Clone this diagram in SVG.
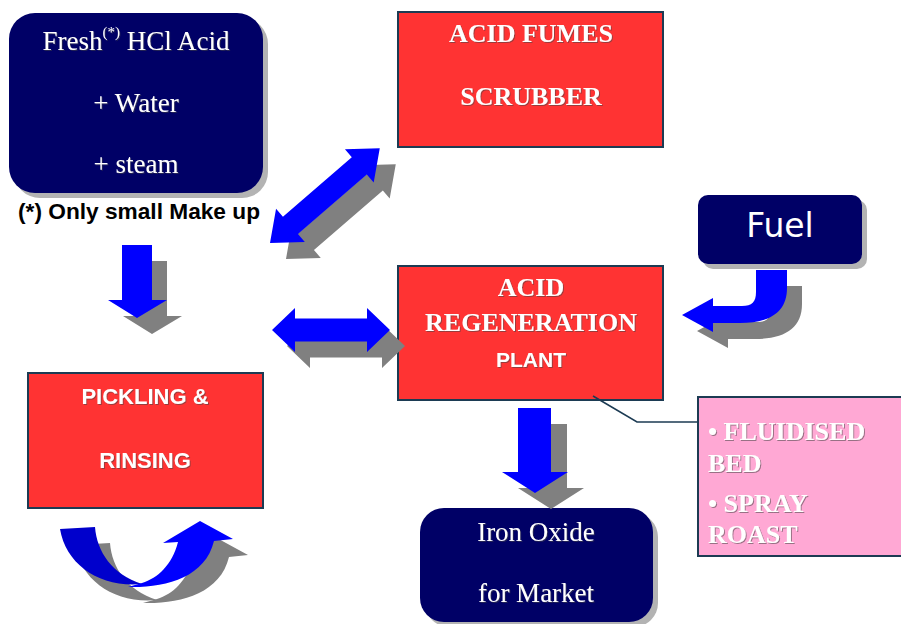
<svg xmlns="http://www.w3.org/2000/svg" width="901" height="624" viewBox="0 0 901 624">
<defs>
<filter id="ts" x="-5%" y="-20%" width="115%" height="150%">
<feDropShadow dx="1" dy="1" stdDeviation="0.5" flood-color="#444" flood-opacity="0.55"/>
</filter>
</defs>
<style>
.navy{fill:#000066}
.shadow{fill:#B3B3B3}
.red{fill:#FF3333;stroke:#1C3B53;stroke-width:2}
.pink{fill:#FFA8D4;stroke:#1C3B53;stroke-width:2}
.serif{font-family:"Liberation Serif","Times New Roman",serif;fill:#fff;font-size:27px}
.bserif{font-family:"Liberation Serif","Times New Roman",serif;fill:#fff;font-size:26px;font-weight:bold}
.bsans{font-family:"Liberation Sans",Arial,sans-serif;fill:#fff;font-weight:bold}
.blue{fill:#0000FF}
.dblue{fill:#0000CC}
.gray{fill:#808080}
</style>
<rect width="901" height="624" fill="#fff"/>

<g id="fresh-acid">
<rect class="shadow" x="14" y="18" width="254" height="180" rx="26"/>
<rect class="navy" x="9" y="13" width="254" height="180" rx="26"/>
<text class="serif" x="136" y="50" text-anchor="middle" filter="url(#ts)">Fresh<tspan font-size="15" dy="-13">(*)</tspan><tspan dy="13"> HCl Acid</tspan></text>
<text class="serif" x="136" y="112" text-anchor="middle" filter="url(#ts)">+ Water</text>
<text class="serif" x="136" y="173" text-anchor="middle" filter="url(#ts)">+ steam</text>
</g>
<g id="makeup-note">
<text x="139" y="219" text-anchor="middle" font-family="'Liberation Sans',Arial,sans-serif" font-weight="bold" font-size="22" fill="#000" textLength="242" lengthAdjust="spacingAndGlyphs">(*) Only small Make up</text>
</g>

<g id="scrubber">
<rect class="red" x="398" y="12" width="265" height="135"/>
<text class="bserif" x="531" y="42" text-anchor="middle" filter="url(#ts)">ACID FUMES</text>
<text class="bserif" x="531" y="105" text-anchor="middle" filter="url(#ts)">SCRUBBER</text>
</g>

<g id="regeneration">
<rect class="red" x="398" y="266" width="265" height="134"/>
<text class="bserif" x="531" y="296" text-anchor="middle" filter="url(#ts)">ACID</text>
<text class="bserif" x="531" y="331" text-anchor="middle" filter="url(#ts)">REGENERATION</text>
<text class="bsans" x="531" y="367" font-size="21" text-anchor="middle" filter="url(#ts)">PLANT</text>
</g>

<g id="pickling">
<rect class="red" x="28" y="373" width="235" height="135"/>
<text class="bsans" x="145" y="404" font-size="22" text-anchor="middle" filter="url(#ts)">PICKLING &amp;</text>
<text class="bsans" x="145" y="468" font-size="22" text-anchor="middle" filter="url(#ts)">RINSING</text>
</g>

<g id="fuel">
<rect class="shadow" x="703" y="200" width="164" height="69" rx="10"/>
<rect class="navy" x="698" y="195" width="164" height="69" rx="10"/>
<text x="780" y="237" text-anchor="middle" font-family="'DejaVu Sans',Verdana,sans-serif" font-size="33" fill="#fff">Fuel</text>
</g>

<g id="iron-oxide">
<rect class="shadow" x="425" y="513" width="233" height="114" rx="24"/>
<rect class="navy" x="420" y="508" width="233" height="114" rx="24"/>
<text class="serif" x="536" y="541" text-anchor="middle" filter="url(#ts)">Iron Oxide</text>
<text class="serif" x="536" y="602" text-anchor="middle" filter="url(#ts)">for Market</text>
</g>

<g id="process-types">
<rect class="pink" x="698" y="397" width="215" height="159"/>
<text class="bserif" x="708" y="440" filter="url(#ts)">• FLUIDISED</text>
<text class="bserif" x="708" y="472" filter="url(#ts)">BED</text>
<text class="bserif" x="708" y="512" filter="url(#ts)">• SPRAY</text>
<text class="bserif" x="708" y="543" filter="url(#ts)">ROAST</text>
</g>

<g id="connectors">
<polyline points="593,396 637,422 697,422" fill="none" stroke="#1C3B53" stroke-width="1.6"/>

<!-- down arrow from fresh acid -->
<g transform="translate(15,16)"><polygon class="gray" points="122,245 152,245 152,300 167,300 137,318 108,300 122,300"/></g>
<polygon class="blue" points="122,245 152,245 152,300 167,300 137,318 108,300 122,300"/>

<!-- diagonal double arrow -->
<g transform="translate(286,259) rotate(-40.8)"><polygon class="gray" points="0,0 27,-22 27,-11.5 118,-11.5 118,-22 145,0 118,22 118,11.5 27,11.5 27,22"/></g>
<g transform="translate(270,243) rotate(-40.8)"><polygon class="blue" points="0,0 27,-22 27,-11.5 118,-11.5 118,-22 145,0 118,22 118,11.5 27,11.5 27,22"/></g>

<!-- horizontal double arrow -->
<g transform="translate(287,346)"><polygon class="gray" points="0,0 23,-22 23,-11.5 95,-11.5 95,-22 118,0 95,22 95,11.5 23,11.5 23,22"/></g>
<g transform="translate(272,330)"><polygon class="blue" points="0,0 23,-22 23,-11.5 95,-11.5 95,-22 118,0 95,22 95,11.5 23,11.5 23,22"/></g>

<!-- fuel curved arrow -->
<g transform="translate(15,16)"><path class="gray" d="M756,270 L787,270 L787,288 C787,312 770,323 740,323 L713,323 L713,332 L682,315 L713,298 L713,306 L742,306 C752,306 756,302 756,292 Z"/></g>
<path class="blue" d="M756,270 L787,270 L787,288 C787,312 770,323 740,323 L713,323 L713,332 L682,315 L713,298 L713,306 L742,306 C752,306 756,302 756,292 Z"/>

<!-- down arrow to iron oxide -->
<g transform="translate(16,16)"><polygon class="gray" points="518,408 551,408 551,472 568,472 535,493 502,472 518,472"/></g>
<polygon class="blue" points="518,408 551,408 551,472 568,472 535,493 502,472 518,472"/>

<!-- U-turn recirculation arrow -->
<g transform="translate(15,16)" class="gray">
<path d="M60,529 L95,527 C97,552 112,574 142,584 C100,588 66,565 60,529 Z"/>
<path d="M128,587 C165,588 205,578 214,541 L233,539 L200,521 L163,543 L178,542 C172,565 158,578 142,583 Z"/>
</g>
<path class="dblue" d="M60,529 L95,527 C97,552 112,574 142,584 C100,588 66,565 60,529 Z"/>
<path class="blue" d="M128,587 C165,588 205,578 214,541 L233,539 L200,521 L163,543 L178,542 C172,565 158,578 142,583 Z"/>
</g>
</svg>
